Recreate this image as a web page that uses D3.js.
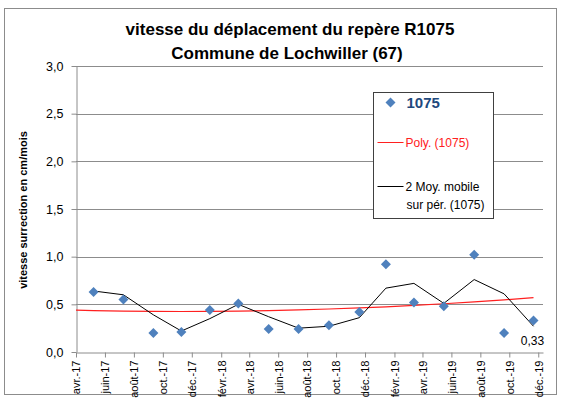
<!DOCTYPE html>
<html>
<head>
<meta charset="utf-8">
<script src="https://cdn.jsdelivr.net/npm/d3@7"></script>
<style>
  body { margin: 0; background: #fff; }
  svg { font-family: "Liberation Sans", Arial, sans-serif; }
</style>
</head>
<body>
<div id="chart-area"></div>
<script>
// mesures du repère R1075
var dates = ["2017-05-08","2017-07-10","2017-09-11","2017-11-09","2018-01-08","2018-03-09",
             "2018-05-12","2018-07-14","2018-09-16","2018-11-19","2019-01-14","2019-03-14",
             "2019-05-16","2019-07-19","2019-09-20","2019-11-21"];
var vitesse = [0.63,0.55,0.20,0.21,0.44,0.51,0.24,0.24,0.28,0.42,0.92,0.52,0.48,1.02,0.20,0.33];

// moyenne mobile sur 2 périodes
var moyMobile = [0.64,0.60,0.39,0.22,0.35,0.50,0.37,0.25,0.27,0.36,0.67,0.72,0.51,0.76,0.61,0.27];

// courbe de tendance polynomiale
var polyDates = ["2017-04-01"].concat(dates);
var polyValues = [0.440,0.434,0.429,0.426,0.425,0.426,0.429,0.434,0.441,0.451,0.462,0.474,0.489,0.506,0.526,0.547,0.570];

var tickDates = ["2017-04-01","2017-06-01","2017-08-01","2017-10-01","2017-12-01","2018-02-01",
                 "2018-04-01","2018-06-01","2018-08-01","2018-10-01","2018-12-01","2019-02-01",
                 "2019-04-01","2019-06-01","2019-08-01","2019-10-01","2019-12-01"];
var tickLabels = ["avr.-17","juin-17","août-17","oct.-17","déc.-17","févr.-18","avr.-18","juin-18",
                  "août-18","oct.-18","déc.-18","févr.-19","avr.-19","juin-19","août-19","oct.-19","déc.-19"];
var yTicks = [0, 0.5, 1, 1.5, 2, 2.5, 3];

var parse = d3.timeParse("%Y-%m-%d");

var plot = { left: 76, right: 543, top: 66, bottom: 352 };

var svg = d3.select("#chart-area")
    .append("svg")
        .attr("width", 562)
        .attr("height", 403);

// cadre du graphique
svg.append("rect")
    .attr("x", 4.5).attr("y", 8.5)
    .attr("width", 552).attr("height", 386)
    .attr("fill", "#fff")
    .attr("stroke", "#8c8c8c");

var x = d3.scaleTime()
    .domain([parse("2017-04-01"), parse("2019-12-11")])
    .range([plot.left, plot.right]);

var y = d3.scaleLinear()
    .domain([0, 3])
    .range([plot.bottom, plot.top]);

// Titre
svg.append("text")
    .attr("x", 290).attr("y", 35)
    .attr("text-anchor", "middle")
    .attr("font-size", "17px")
    .attr("font-weight", "bold")
    .text("vitesse du déplacement du repère R1075");
svg.append("text")
    .attr("x", 287).attr("y", 59)
    .attr("text-anchor", "middle")
    .attr("font-size", "17px")
    .attr("font-weight", "bold")
    .text("Commune de Lochwiller (67)");

// Y Label
svg.append("text")
    .attr("transform", "translate(27,210) rotate(-90)")
    .attr("text-anchor", "middle")
    .attr("font-size", "11px")
    .attr("font-weight", "bold")
    .text("vitesse surrection en cm/mois");

// grille horizontale
svg.append("g")
    .selectAll("line")
    .data(yTicks.filter(function(d){ return d > 0; }))
    .enter().append("line")
        .attr("x1", plot.left).attr("x2", plot.right)
        .attr("y1", function(d){ return Math.round(y(d)) + 0.5; })
        .attr("y2", function(d){ return Math.round(y(d)) + 0.5; })
        .attr("stroke", "#8c8c8c");

// Y Axis
var yAxisCall = d3.axisLeft(y)
    .tickValues(yTicks)
    .tickSize(5)
    .tickSizeOuter(0)
    .tickFormat(function(d){ return d.toFixed(1).replace(".", ","); });
var yAxis = svg.append("g")
    .attr("transform", "translate(" + (plot.left + 0.5) + ",0)")
    .call(yAxisCall);
yAxis.selectAll("text")
    .attr("font-size", "12.5px")
    .attr("font-family", "Liberation Sans, Arial, sans-serif")
    .attr("fill", "#000")
    .attr("x", -13);
yAxis.selectAll("line, path").attr("stroke", "#8c8c8c");

// X Axis
var xAxisCall = d3.axisBottom(x)
    .tickValues(tickDates.map(parse))
    .tickSize(5)
    .tickSizeOuter(0)
    .tickFormat(function(d, i){ return tickLabels[i]; });
var xAxis = svg.append("g")
    .attr("transform", "translate(0," + (plot.bottom + 0.5) + ")")
    .call(xAxisCall);
xAxis.selectAll("text")
    .attr("font-size", "11px")
    .attr("font-family", "Liberation Sans, Arial, sans-serif")
    .attr("fill", "#000")
    .attr("transform", "rotate(-90)")
    .attr("text-anchor", "end")
    .attr("x", -8)
    .attr("y", 0)
    .attr("dy", "0.35em");
xAxis.selectAll("line, path").attr("stroke", "#8c8c8c");

// tendance polynomiale
var polyLine = d3.line()
    .x(function(d, i){ return x(parse(polyDates[i])); })
    .y(function(d){ return y(d); });
svg.append("path")
    .attr("d", polyLine(polyValues))
    .attr("fill", "none")
    .attr("stroke", "#ff2020")
    .attr("stroke-width", 1.2);

// moyenne mobile
var mmLine = d3.line()
    .x(function(d, i){ return x(parse(dates[i])); })
    .y(function(d){ return y(d); });
svg.append("path")
    .attr("d", mmLine(moyMobile))
    .attr("fill", "none")
    .attr("stroke", "#000")
    .attr("stroke-width", 1);

// points
var diamond = "M0,-5L5,0L0,5L-5,0Z";
svg.append("g")
    .selectAll("path")
    .data(vitesse)
    .enter().append("path")
        .attr("d", diamond)
        .attr("transform", function(d, i){ return "translate(" + x(parse(dates[i])) + "," + y(d) + ")"; })
        .attr("fill", "#4f81bd");

// étiquette du dernier point
var last = vitesse.length - 1;
svg.append("text")
    .attr("x", x(parse(dates[last])) - 1)
    .attr("y", y(vitesse[last]) + 24)
    .attr("text-anchor", "middle")
    .attr("font-size", "12px")
    .text(String(vitesse[last]).replace(".", ","));

// Légende
var lg = svg.append("g").attr("transform", "translate(373.5,92.5)");
lg.append("rect")
    .attr("width", 120).attr("height", 126)
    .attr("fill", "#fff")
    .attr("stroke", "#404040");
lg.append("path")
    .attr("d", diamond)
    .attr("transform", "translate(17,10)")
    .attr("fill", "#4f81bd");
lg.append("text")
    .attr("x", 33).attr("y", 15)
    .attr("font-size", "15px")
    .attr("font-weight", "bold")
    .attr("fill", "#1f497d")
    .text("1075");
lg.append("line")
    .attr("x1", 4).attr("x2", 30).attr("y1", 50).attr("y2", 50)
    .attr("stroke", "#ff2020");
lg.append("text")
    .attr("x", 32).attr("y", 54)
    .attr("font-size", "12px")
    .attr("fill", "#ff2020")
    .text("Poly. (1075)");
lg.append("line")
    .attr("x1", 4).attr("x2", 30).attr("y1", 94).attr("y2", 94)
    .attr("stroke", "#000");
lg.append("text")
    .attr("x", 32).attr("y", 98)
    .attr("font-size", "12px")
    .text("2 Moy. mobile");
lg.append("text")
    .attr("x", 33).attr("y", 116)
    .attr("font-size", "12px")
    .text("sur pér. (1075)");
</script>
</body>
</html>
